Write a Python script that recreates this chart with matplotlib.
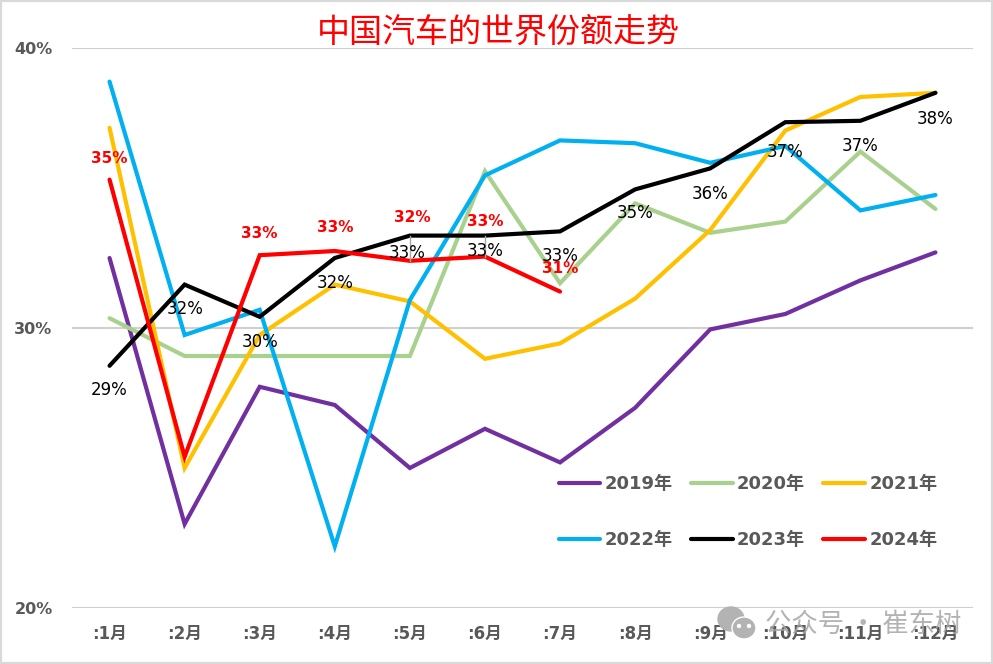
import matplotlib
matplotlib.use('Agg')
import matplotlib.pyplot as plt
from matplotlib.patches import Ellipse, Rectangle

plt.rcParams['font.family'] = ['DejaVu Sans', 'Noto Sans CJK SC']

months = [':1月', ':2月', ':3月', ':4月', ':5月', ':6月', ':7月', ':8月', ':9月', ':10月', ':11月', ':12月']

y2019 = [32.5, 23.0, 27.9, 27.25, 25.0, 26.4, 25.2, 27.15, 29.95, 30.5, 31.7, 32.7]
y2020 = [30.35, 29.0, 29.0, 29.0, 29.0, 35.6, 31.6, 34.45, 33.4, 33.8, 36.3, 34.25]
y2021 = [37.15, 25.0, 29.75, 31.55, 30.95, 28.9, 29.45, 31.05, 33.5, 37.05, 38.25, 38.4]
y2022 = [38.8, 29.75, 30.65, 22.2, 31.0, 35.45, 36.7, 36.6, 35.9, 36.5, 34.2, 34.75]
y2023 = [28.65, 31.55, 30.4, 32.5, 33.3, 33.3, 33.45, 34.95, 35.7, 37.35, 37.4, 38.4]
y2024 = [35.3, 25.4, 32.6, 32.75, 32.4, 32.55, 31.3]

series = [('2019年', y2019, '#7030a0'), ('2020年', y2020, '#a9d18e'), ('2021年', y2021, '#ffc000'),
          ('2022年', y2022, '#00b0f0'), ('2023年', y2023, '#000000'), ('2024年', y2024, '#ff0000')]

# month index, text, offset in pixels from the point
labels_2023 = [(0, '29%', 0, -24), (1, '32%', 0, -24), (2, '30%', 0, -25), (3, '32%', 0, -25),
               (4, '33%', -3, -17), (5, '33%', 0, -15), (6, '33%', 0, -25), (7, '35%', 0, -24),
               (8, '36%', 0, -26), (9, '37%', 0, -30), (10, '37%', 0, -25), (11, '38%', 0, -26)]
labels_2024 = [(0, '35%', 0, 21), (2, '33%', 0, 22), (3, '33%', 0, 23),
               (4, '32%', 2, 43), (5, '33%', 0, 35), (6, '31%', 0, 23)]

fig = plt.figure(figsize=(9.93, 6.64), dpi=100)
ax = fig.add_axes([72 / 993, 1 - 608 / 664, 901 / 993, 560 / 664])

x = list(range(len(months)))
for name, values, color in series:
    ax.plot(x[:len(values)], values, color=color, lw=3, label=name,
            solid_joinstyle='miter', solid_capstyle='round', zorder=3)

# leader lines for the two moved labels
for i in [4, 5]:
    ax.plot([i, i], [y2023[i], y2024[i]], color='#a6a6a6', lw=1, zorder=4)

for i, txt, dx, dy in labels_2023:
    ax.annotate(txt, (i, y2023[i]), xytext=(dx, dy), textcoords='offset pixels', ha='center', va='center',
                color='black', fontsize=12, zorder=5)
for i, txt, dx, dy in labels_2024:
    ax.annotate(txt, (i, y2024[i]), xytext=(dx, dy), textcoords='offset pixels', ha='center', va='center',
                color='#ff0000', fontsize=11, fontweight='bold', zorder=6)

ax.set_xlim(-0.5, 11.5)
ax.set_ylim(20, 40)
ax.set_yticks([20, 30, 40])
ax.set_yticklabels(['20%', '30%', '40%'])
ax.set_xticks(x)
ax.set_xticklabels(months)
ax.tick_params(axis='x', length=0, labelsize=12, labelcolor='#595959', pad=12)
ax.tick_params(axis='y', length=0, labelsize=11.5, labelcolor='#595959', pad=14)
for t in ax.get_xticklabels() + ax.get_yticklabels():
    t.set_fontweight('bold')
ax.grid(axis='y', color='#d0d0d0', lw=1.5, zorder=0)
ax.set_axisbelow(True)
for s in ax.spines.values():
    s.set_visible(False)

fig.text(498 / 993, 1 - 32 / 664, '中国汽车的世界份额走势', color='#ff0000', fontsize=23.8,
         ha='center', va='center', family='Noto Sans CJK SC')

handles, names = ax.get_legend_handles_labels()
order = [0, 3, 1, 4, 2, 5]
leg = ax.legend([handles[i] for i in order], [names[i] for i in order], ncol=3, frameon=False,
                loc='center', bbox_to_anchor=(748 / 993, 1 - 512 / 664), bbox_transform=fig.transFigure,
                fontsize=13, labelcolor='#595959', handlelength=2.3, handletextpad=0.25,
                columnspacing=1.02, labelspacing=2.1)
for t in leg.get_texts():
    t.set_fontweight('bold')
for h in leg.get_lines():
    h.set_linewidth(3)

# watermark
gray = '#b3b3b3'
fig.add_artist(Ellipse((731 / 993, 1 - 619 / 664), 26 / 993, 24 / 664, color=gray, transform=fig.transFigure, zorder=7))
fig.add_artist(Ellipse((744 / 993, 1 - 628 / 664), 24 / 993, 22 / 664, fc=gray, ec='white', lw=1,
                       transform=fig.transFigure, zorder=8))
for ex in [739, 749]:
    fig.add_artist(Ellipse((ex / 993, 1 - 626 / 664), 3 / 993, 3 / 664, color='white',
                           transform=fig.transFigure, zorder=8))
fig.text(765 / 993, 1 - 624 / 664, '公众号 · 崔东树', color='#a6a6a6', alpha=0.85, fontsize=19, ha='left', va='center',
         family='Noto Sans CJK SC', zorder=9)

# picture border
fig.add_artist(Rectangle((0, 0), 1, 1, fill=False, ec='#d9d9d9', lw=3, transform=fig.transFigure))

fig.savefig('out.png', dpi=100)
